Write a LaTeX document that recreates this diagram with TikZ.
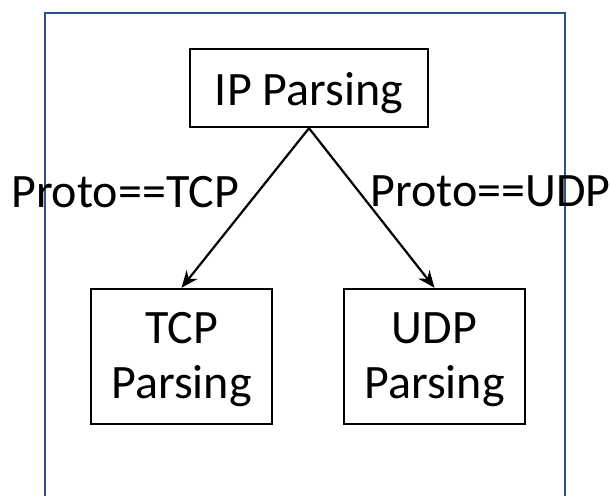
\documentclass[tikz,border=0pt]{standalone}
\usepackage{fontspec}
\setmainfont{Carlito}
\usepackage{xcolor}
\usetikzlibrary{arrows.meta,calc}
\definecolor{frameblue}{RGB}{47,82,143}

\begin{document}
\begin{tikzpicture}[x=1pt,y=-1pt,
    parsebox/.style={draw, line width=2.4pt, inner sep=0pt},
    boxtext/.style={align=center, inner sep=0pt, font=\fontsize{48}{55}\selectfont},
    cond/.style={font=\fontsize{48}{55}\selectfont, inner sep=0pt, anchor=base}]

    \useasboundingbox (0,0) rectangle (610,495);
    \draw[frameblue, line width=2.4pt] (45,13) rectangle (565,530);

    \node[parsebox, minimum width=238pt, minimum height=78pt] (ip) at (309,88) {};
    \node[parsebox, minimum width=181pt, minimum height=135pt] (tcp) at (181.5,356.5) {};
    \node[parsebox, minimum width=181pt, minimum height=135pt] (udp) at (434.5,356.5) {};
    \node[boxtext, anchor=base] (iptxt) at (309,105) {IP Parsing};
    \node[boxtext] (tcptxt) at ($(tcp)+(0,3)$) {TCP\\Parsing};
    \node[boxtext] (udptxt) at ($(udp)+(0,3)$) {UDP\\Parsing};

    \node[cond] (lbltcp) at (125,207) {Proto==TCP};
    \node[cond] (lbludp) at (490.5,206) {Proto==UDP};

    \draw[-{Stealth[length=17pt,width=14pt]}, line width=2.2pt] (ip.south) -- (tcp.north);
    \draw[-{Stealth[length=17pt,width=14pt]}, line width=2.2pt] (ip.south) -- (udp.north);
\end{tikzpicture}
\end{document}
